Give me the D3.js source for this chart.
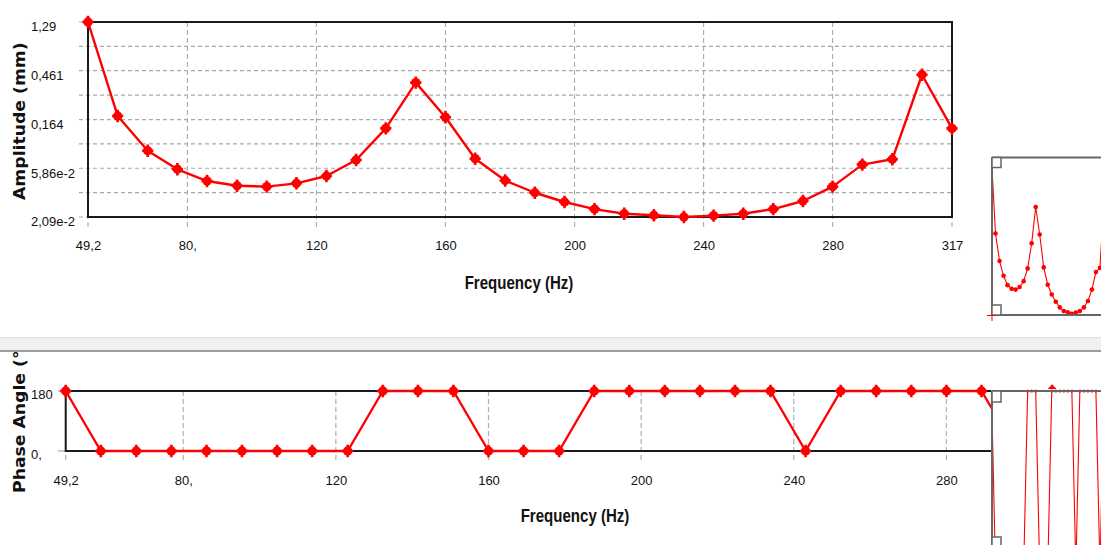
<!DOCTYPE html>
<html><head><meta charset="utf-8">
<script src="https://cdn.jsdelivr.net/npm/d3@7"></script>
<style>
html,body{margin:0;padding:0;background:#fff;overflow:hidden;}
svg{display:block;}
</style></head><body>
<svg id="c" width="1101" height="545"></svg>
<script>
// ---- data ----
const frequencies = [49.2, 58.4, 67.7, 76.9, 86.1, 95.4, 104.6, 113.8, 123.1, 132.3,
  141.5, 150.8, 160.0, 169.2, 178.5, 187.7, 196.9, 206.2, 215.4, 224.6,
  233.9, 243.1, 252.3, 261.6, 270.8, 280.0, 289.2, 298.5, 307.7, 317.0];
const amplitude = [1.29, 0.177, 0.0849, 0.0573, 0.0447, 0.0405, 0.0397, 0.0426, 0.0497, 0.0698,
  0.136, 0.358, 0.172, 0.0717, 0.0452, 0.0349, 0.0287, 0.0247, 0.0224, 0.0217,
  0.0209, 0.0215, 0.0224, 0.0247, 0.0293, 0.0397, 0.0632, 0.0708, 0.423, 0.136];
const phaseAngle = [180, 0, 0, 0, 0, 0, 0, 0, 0, 180,
  180, 180, 0, 0, 0, 180, 180, 180, 180, 180,
  180, 0, 180, 180, 180, 180, 180, 0, 180, 0];
const xTickValues = [49.2, 80, 120, 160, 200, 240, 280, 317];
const xTickLabels = ["49,2", "80,", "120", "160", "200", "240", "280", "317"];
const ampTickValues = [1.29, 0.461, 0.164, 0.0586, 0.0209];
const ampTickLabels = ["1,29", "0,461", "0,164", "5,86e-2", "2,09e-2"];
const phaseTickValues = [180, 0];
const phaseTickLabels = ["180", "0,"];
const xTitle = "Frequency (Hz)";
const ampTitle = "Amplitude (mm)";
const phaseTitle = "Phase Angle (°)";

// ---- setup ----
const svg = d3.select("#c");
const RED = "#ff0000";
const tickFont = "'Liberation Sans', Arial, sans-serif";
const ampData = frequencies.map((f, i) => ({f, v: amplitude[i]}));
const phData = frequencies.map((f, i) => ({f, v: phaseAngle[i]}));
const xDomain = [frequencies[0], frequencies[frequencies.length - 1]];

function marker(g, data, x, y) {
  const m = g.selectAll("g.mk").data(data).join("g").attr("class", "mk")
    .attr("transform", d => `translate(${x(d.f)},${y(d.v)})`);
  m.append("circle").attr("r", 4.7).attr("fill", RED);
  m.append("path").attr("d", "M0,-6.2V6.2M-5.6,0H5.6").attr("stroke", RED).attr("stroke-width", 2.6);
}

// ================= TOP PANEL =================
const T = {l: 88, r: 952, t: 22, b: 217};
const xTop = d3.scaleLinear().domain(xDomain).range([T.l, T.r]);
const yAmp = d3.scaleLog().domain([d3.min(amplitude), d3.max(amplitude)]).range([T.b, T.t]);
const topG = svg.append("g");

const minor = ampTickValues.slice(1).map((v, i) => Math.sqrt(v * ampTickValues[i]));
topG.append("g").selectAll("line").data(ampTickValues.concat(minor)).join("line")
  .attr("x1", T.l - 9).attr("x2", T.r).attr("y1", d => yAmp(d)).attr("y2", d => yAmp(d))
  .attr("stroke", "#a9a9a9").attr("stroke-width", 1.2).attr("stroke-dasharray", "4,3");
topG.append("g").selectAll("line").data(xTickValues).join("line")
  .attr("x1", d => xTop(d)).attr("x2", d => xTop(d)).attr("y1", T.t).attr("y2", T.b + 11)
  .attr("stroke", "#b0b0b0").attr("stroke-width", 1.2).attr("stroke-dasharray", "5,3");

topG.append("rect").attr("x", T.l).attr("y", T.t).attr("width", T.r - T.l).attr("height", T.b - T.t)
  .attr("fill", "none").attr("stroke", "#1a1a1a").attr("stroke-width", 2);

const axX = topG.append("g").attr("transform", `translate(0,${T.b})`)
  .call(d3.axisBottom(xTop).tickValues(xTickValues).tickFormat((d, i) => xTickLabels[i]).tickSize(0).tickPadding(24));
axX.select(".domain").remove();
axX.selectAll("text").attr("font-family", tickFont).attr("font-size", 13).attr("fill", "#111");

const axY = topG.append("g").attr("transform", `translate(${T.l},0)`)
  .call(d3.axisLeft(yAmp).tickValues(ampTickValues).tickFormat((d, i) => ampTickLabels[i]).tickSize(0));
axY.select(".domain").remove();
axY.selectAll("text").attr("x", 31 - T.l).attr("text-anchor", "start").attr("dy", "0.68em")
  .attr("font-family", tickFont).attr("font-size", 13).attr("fill", "#111");

topG.append("path").datum(ampData)
  .attr("d", d3.line().x(d => xTop(d.f)).y(d => yAmp(d.v)))
  .attr("fill", "none").attr("stroke", RED).attr("stroke-width", 2.4).attr("stroke-linejoin", "round");
marker(topG.append("g"), ampData, xTop, yAmp);

topG.append("text").attr("transform", "translate(519,289) scale(0.86,1)")
  .attr("text-anchor", "middle").attr("font-family", tickFont).attr("font-weight", "bold")
  .attr("font-size", 17.5).attr("fill", "#111").text(xTitle);
topG.append("text").attr("transform", "translate(25,200) rotate(-90) scale(1.15,1)")
  .attr("text-anchor", "start").attr("font-family", "'DejaVu Sans', Verdana, sans-serif")
  .attr("font-weight", "bold").attr("font-size", 15).attr("fill", "#111").text(ampTitle);

// ================= SEPARATOR =================
svg.append("rect").attr("x", 0).attr("y", 337).attr("width", 1101).attr("height", 13).attr("fill", "#f0f0f0");
svg.append("line").attr("x1", 0).attr("x2", 1101).attr("y1", 337.5).attr("y2", 337.5).attr("stroke", "#e0e0e0");
svg.append("line").attr("x1", 0).attr("x2", 1101).attr("y1", 351).attr("y2", 351).attr("stroke", "#9c9c9c").attr("stroke-width", 2);

// ================= BOTTOM PANEL =================
const defs = svg.append("defs");
defs.append("clipPath").attr("id", "botclip").append("rect")
  .attr("x", 0).attr("y", 352).attr("width", 1101).attr("height", 193);
defs.append("clipPath").attr("id", "thumbclip").append("rect")
  .attr("x", 993).attr("y", 150).attr("width", 110).attr("height", 400);
const botG = svg.append("g").attr("clip-path", "url(#botclip)");
const B = {l: 65.7, r: 1087.6, t: 391, b: 451};
const xBot = d3.scaleLinear().domain(xDomain).range([B.l, B.r]);
const yPh = d3.scaleLinear().domain([0, 180]).range([B.b, B.t]);

botG.append("g").selectAll("line").data(xTickValues).join("line")
  .attr("x1", d => xBot(d)).attr("x2", d => xBot(d)).attr("y1", B.t).attr("y2", B.b + 10)
  .attr("stroke", "#b0b0b0").attr("stroke-width", 1.2).attr("stroke-dasharray", "5,3");
botG.append("g").selectAll("line").data(phaseTickValues).join("line")
  .attr("x1", B.l - 8).attr("x2", B.l).attr("y1", d => yPh(d)).attr("y2", d => yPh(d))
  .attr("stroke", "#a9a9a9").attr("stroke-width", 1.2);
botG.append("rect").attr("x", B.l).attr("y", B.t).attr("width", B.r - B.l).attr("height", B.b - B.t)
  .attr("fill", "none").attr("stroke", "#1a1a1a").attr("stroke-width", 2);

const bX = botG.append("g").attr("transform", `translate(0,${B.b})`)
  .call(d3.axisBottom(xBot).tickValues(xTickValues.slice(0, 7)).tickFormat((d, i) => xTickLabels[i]).tickSize(0).tickPadding(25));
bX.select(".domain").remove();
bX.selectAll("text").attr("font-family", tickFont).attr("font-size", 13).attr("fill", "#111");
const bY = botG.append("g").attr("transform", `translate(${B.l},0)`)
  .call(d3.axisLeft(yPh).tickValues(phaseTickValues).tickFormat((d, i) => phaseTickLabels[i]).tickSize(0));
bY.select(".domain").remove();
bY.selectAll("text").attr("x", 31 - B.l).attr("text-anchor", "start").attr("dy", "0.55em")
  .attr("font-family", tickFont).attr("font-size", 13).attr("fill", "#111");

botG.append("path").datum(phData)
  .attr("d", d3.line().x(d => xBot(d.f)).y(d => yPh(d.v)))
  .attr("fill", "none").attr("stroke", RED).attr("stroke-width", 2.4).attr("stroke-linejoin", "round");
marker(botG.append("g"), phData, xBot, yPh);

botG.append("text").attr("transform", "translate(575,522) scale(0.86,1)")
  .attr("text-anchor", "middle").attr("font-family", tickFont).attr("font-weight", "bold")
  .attr("font-size", 17.5).attr("fill", "#111").text(xTitle);
botG.append("text").attr("transform", "translate(25,493) rotate(-90) scale(1.15,1)")
  .attr("text-anchor", "start").attr("font-family", "'DejaVu Sans', Verdana, sans-serif")
  .attr("font-weight", "bold").attr("font-size", 15).attr("fill", "#111").text(phaseTitle);

// ================= THUMBNAILS =================
const xThumb = d3.scaleLinear().domain(xDomain).range([991.5, 1108]);
const GRAY = "#666";
// amplitude thumbnail
const t1 = svg.append("g");
t1.append("rect").attr("x", 991).attr("y", 155).attr("width", 110).attr("height", 163).attr("fill", "#fff");
const yThumbA = d3.scaleLog().domain([d3.min(amplitude), d3.max(amplitude)]).range([313.7, 158.8]);
const t1c = t1.append("g").attr("clip-path", "url(#thumbclip)");
t1c.append("path").datum(ampData).attr("d", d3.line().x(d => xThumb(d.f)).y(d => yThumbA(d.v)))
  .attr("fill", "none").attr("stroke", RED).attr("stroke-width", 1.1);
t1c.selectAll("circle").data(ampData).join("circle")
  .attr("cx", d => xThumb(d.f)).attr("cy", d => yThumbA(d.v)).attr("r", 2.3).attr("fill", RED);
t1.append("path").attr("d", "M992,157.5H1101M992,157.5V315M992,315H1101")
  .attr("fill", "none").attr("stroke", GRAY).attr("stroke-width", 2);
t1.append("rect").attr("x", 992).attr("y", 157.5).attr("width", 9).attr("height", 10)
  .attr("fill", "#fff").attr("stroke", GRAY).attr("stroke-width", 1.5);
t1.append("rect").attr("x", 992).attr("y", 305).attr("width", 9).attr("height", 10)
  .attr("fill", "#fff").attr("stroke", GRAY).attr("stroke-width", 1.5);
t1.append("path").attr("d", "M987,315.5H996M992,315V321").attr("stroke", RED).attr("stroke-width", 1);

// phase thumbnail
const t2 = svg.append("g");
t2.append("rect").attr("x", 991).attr("y", 389).attr("width", 110).attr("height", 156).attr("fill", "#fff");
const yThumbP = d3.scaleLinear().domain([0, 180]).range([570, 391]);
const t2c = t2.append("g").attr("clip-path", "url(#thumbclip)");
t2c.append("path").datum(phData).attr("d", d3.line().x(d => xThumb(d.f)).y(d => yThumbP(d.v)))
  .attr("fill", "none").attr("stroke", RED).attr("stroke-width", 1.1);
t2c.selectAll("circle").data(phData).join("circle")
  .attr("cx", d => xThumb(d.f)).attr("cy", d => yThumbP(d.v)).attr("r", 1.6).attr("fill", RED);
t2.append("path").attr("d", "M992,391H1101M992,391V545")
  .attr("fill", "none").attr("stroke", GRAY).attr("stroke-width", 2);
t2.append("rect").attr("x", 992).attr("y", 391).attr("width", 9).attr("height", 11)
  .attr("fill", "#fff").attr("stroke", GRAY).attr("stroke-width", 1.5);
t2.append("rect").attr("x", 992).attr("y", 537).attr("width", 9).attr("height", 11)
  .attr("fill", "#fff").attr("stroke", GRAY).attr("stroke-width", 1.5);
</script>
</body></html>
